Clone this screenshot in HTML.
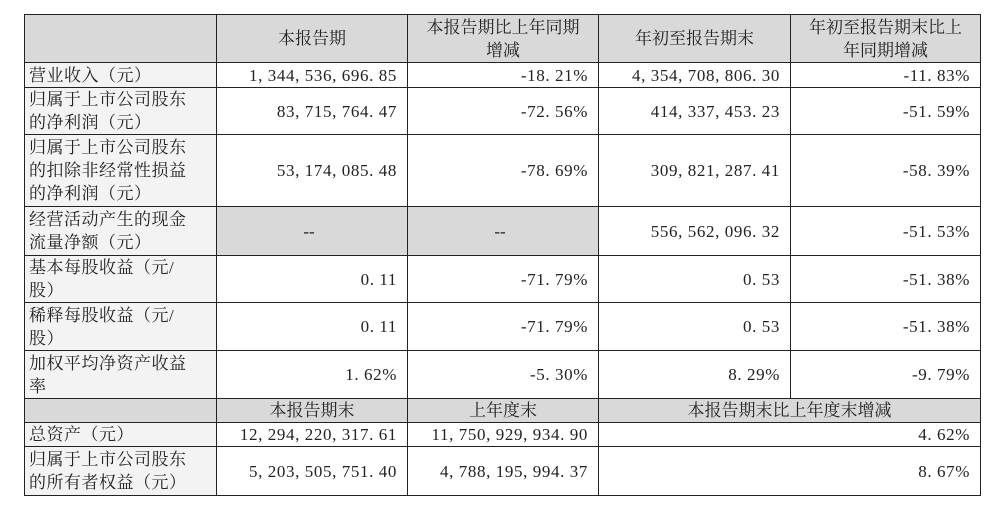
<!DOCTYPE html>
<html><head><meta charset="utf-8"><style>
html,body{margin:0;padding:0;background:#fff;width:1000px;height:526px;overflow:hidden}
table{position:absolute;left:24px;top:14px;border-collapse:collapse;table-layout:fixed;width:956px;
font-family:"Liberation Serif","Noto Serif CJK SC",serif;font-size:17px;color:#222}
td{border:1.5px solid #222;padding:0 10px 0 4px;line-height:23px;overflow:hidden;white-space:nowrap}
td.l{background:#f3f3f3;text-align:left;letter-spacing:0.5px}
td.n{text-align:right;letter-spacing:0.6px}
tr.h td{background:#d9d9d9;text-align:center;padding:0 4px}
td.g{background:#d9d9d9;text-align:center}
</style></head><body>
<table>
<colgroup><col style="width:192px"><col style="width:191px"><col style="width:191px"><col style="width:192px"><col style="width:190px"></colgroup>
<tr class="h" style="height:48px"><td></td><td>本报告期</td><td>本报告期比上年同期<br>增减</td><td>年初至报告期末</td><td>年初至报告期末比上<br>年同期增减</td></tr>
<tr style="height:25px"><td class="l">营业收入（元）</td><td class="n">1, 344, 536, 696. 85</td><td class="n">-18. 21%</td><td class="n">4, 354, 708, 806. 30</td><td class="n">-11. 83%</td></tr>
<tr style="height:47px"><td class="l">归属于上市公司股东<br>的净利润（元）</td><td class="n">83, 715, 764. 47</td><td class="n">-72. 56%</td><td class="n">414, 337, 453. 23</td><td class="n">-51. 59%</td></tr>
<tr style="height:72px"><td class="l">归属于上市公司股东<br>的扣除非经常性损益<br>的净利润（元）</td><td class="n">53, 174, 085. 48</td><td class="n">-78. 69%</td><td class="n">309, 821, 287. 41</td><td class="n">-58. 39%</td></tr>
<tr style="height:49px"><td class="l">经营活动产生的现金<br>流量净额（元）</td><td class="g">--</td><td class="g">--</td><td class="n">556, 562, 096. 32</td><td class="n">-51. 53%</td></tr>
<tr style="height:47px"><td class="l">基本每股收益（元/<br>股）</td><td class="n">0. 11</td><td class="n">-71. 79%</td><td class="n">0. 53</td><td class="n">-51. 38%</td></tr>
<tr style="height:48px"><td class="l">稀释每股收益（元/<br>股）</td><td class="n">0. 11</td><td class="n">-71. 79%</td><td class="n">0. 53</td><td class="n">-51. 38%</td></tr>
<tr style="height:48px"><td class="l">加权平均净资产收益<br>率</td><td class="n">1. 62%</td><td class="n">-5. 30%</td><td class="n">8. 29%</td><td class="n">-9. 79%</td></tr>
<tr class="h" style="height:24px"><td></td><td>本报告期末</td><td>上年度末</td><td colspan="2">本报告期末比上年度末增减</td></tr>
<tr style="height:24px"><td class="l">总资产（元）</td><td class="n">12, 294, 220, 317. 61</td><td class="n">11, 750, 929, 934. 90</td><td class="n" colspan="2">4. 62%</td></tr>
<tr style="height:49px"><td class="l">归属于上市公司股东<br>的所有者权益（元）</td><td class="n">5, 203, 505, 751. 40</td><td class="n">4, 788, 195, 994. 37</td><td class="n" colspan="2">8. 67%</td></tr>
</table>
</body></html>
